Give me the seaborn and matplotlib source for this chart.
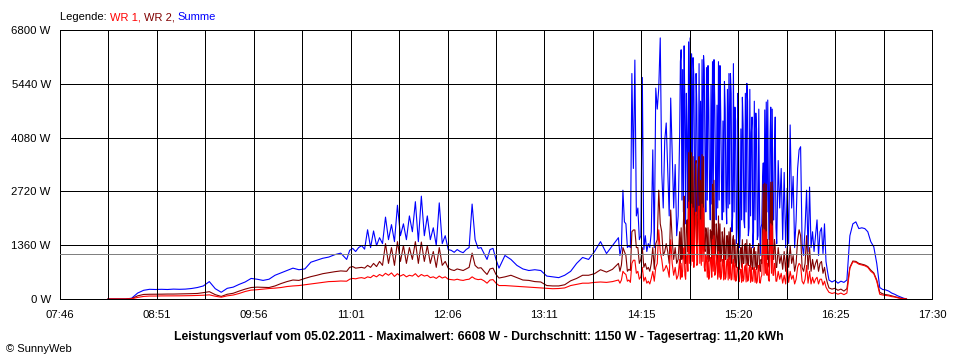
import numpy as np
import pandas as pd
import matplotlib
matplotlib.use("Agg")
import matplotlib.pyplot as plt
import seaborn as sns

# ---------------- data ----------------
# sampling grid of the recorded values (start time, step in minutes, number of samples)
seg_start = ["08:18", "11:00", "12:44", "14:01", "14:41", "15:46", "16:21"]
seg_step = [4, 2, 4, 1, 0.5, 1, 2]
seg_count = [41, 51, 20, 40, 130, 35, 27]

summe = [
    # 08:18 - 10:58
    0, 0, 0, 0, 20, 150, 220, 245, 240, 245,
    240, 250, 245, 250, 265, 290, 330, 440, 260, 170,
    270, 300, 370, 430, 520, 500, 470, 500, 600, 660,
    720, 780, 740, 760, 930, 980, 1030, 1060, 1120, 1160,
    1000,
    # 11:00 - 12:40
    1230, 1280, 1200, 1300, 1350, 1260, 1750, 1300, 1720, 1350,
    1550, 1400, 2070, 1500, 1880, 1450, 2370, 1600, 1900, 1500,
    2100, 1700, 2460, 1450, 2600, 1600, 2100, 1500, 1800, 1350,
    2430, 1400, 1600, 1250, 1230, 1180, 1250, 1200, 1170, 1250,
    1300, 2400, 1500, 1280, 1300, 1150, 1000, 1250, 1280, 1000,
    780,
    # 12:44 - 14:00
    1100, 1000, 850, 760, 720, 740, 720, 580, 560, 540,
    600, 700, 900, 1050, 1000, 1200, 1450, 1150, 1350, 1550,
    # 14:01 - 14:40
    1100, 1300, 2750, 1950, 1900, 1300, 1350, 1300, 5700, 3300,
    6040, 2100, 2300, 1500, 1600, 5600, 1250, 1600, 1200, 1400,
    1300, 1700, 3770, 1300, 5330, 4800, 5330, 6600, 3200, 2300,
    4000, 4450, 3300, 2100, 5080, 3700, 2300, 3400, 1600, 2100,
    # 14:41 - 15:45.5 (half-minute values)
    4150, 6000, 6300, 2500, 5800, 2200, 6400, 4800, 1900, 5200,
    4000, 2300, 6500, 2600, 6600, 2400, 6200, 2500, 6100, 5600,
    3000, 2200, 5700, 4900, 2500, 2100, 5950, 2400, 5000, 2300,
    6050, 2600, 6150, 5800, 3500, 2200, 5850, 2500, 5900, 4800,
    2800, 2000, 5400, 2400, 6000, 2600, 6050, 5000, 3200, 2000,
    4900, 2300, 6000, 2500, 5900, 4700, 3000, 2000, 4500, 2200,
    5500, 4800, 2500, 1900, 5300, 2300, 5700, 2400, 5700, 5200,
    1700, 2100, 5950, 2200, 4850, 4500, 1400, 1800, 5200, 4000,
    1300, 1600, 4300, 2000, 5100, 4400, 2000, 1800, 5200, 2200,
    5450, 5000, 1600, 1800, 5300, 2100, 4200, 4600, 1300, 1700,
    5000, 2000, 4700, 4300, 1500, 1600, 4800, 2200, 1100, 1800,
    1900, 3000, 3440, 1800, 4780, 2000, 4980, 2200, 5030, 2500,
    1500, 4000, 4850, 2200, 4800, 2000, 2000, 3800, 4600, 1800,
    # 15:46 - 16:20
    1400, 3500, 2300, 3300, 1500, 3200, 1300, 2800, 1400, 4400,
    2300, 3100, 1300, 2000, 3300, 3770, 3850, 1400, 1100, 1800,
    2750, 1200, 2830, 1300, 1700, 1200, 1600, 2000, 1100, 1700,
    1800, 1150, 1900, 950, 700,
    # 16:21 - 17:13
    480, 430, 470, 400, 450, 420, 480, 1600, 1900, 1950,
    1780, 1800, 1780, 1700, 1450, 1320, 900, 290, 240, 230,
    200, 150, 120, 80, 50, 20, 0,
]

wr2 = [
    # 08:18 - 10:58
    0, 0, 0, 0, 10, 80, 115, 120, 120, 122,
    125, 125, 128, 130, 135, 140, 160, 185, 110, 65,
    120, 145, 200, 250, 290, 300, 295, 290, 330, 390,
    440, 480, 470, 520, 565, 600, 640, 665, 690, 710,
    700,
    # 11:00 - 12:40
    800, 820, 780, 790, 800, 780, 850, 800, 900, 820,
    950, 850, 1400, 900, 1300, 850, 1450, 950, 1350, 900,
    1300, 1000, 1450, 900, 1440, 950, 1350, 900, 1200, 800,
    1300, 850, 950, 780, 740, 720, 760, 740, 720, 760,
    800, 1160, 850, 780, 790, 700, 620, 760, 780, 620,
    530,
    # 12:44 - 14:00
    560, 600, 540, 480, 470, 440, 430, 340, 330, 330,
    360, 460, 520, 600, 600, 640, 740, 680, 750, 900,
    # 14:01 - 14:40
    700, 860, 1300, 1200, 1100, 700, 750, 720, 1700, 1745,
    1745, 1300, 1300, 900, 1000, 1300, 800, 900, 750, 800,
    700, 900, 1300, 750, 1400, 1500, 2750, 1900, 1700, 1100,
    1200, 1400, 1200, 900, 2250, 1500, 1000, 1300, 900, 1000,
    # 14:41 - 15:45.5 (half-minute values)
    1700, 900, 1800, 1000, 1300, 1900, 2600, 1100, 900, 1800,
    2000, 1200, 3700, 1500, 3750, 1400, 3700, 1600, 3600, 1300,
    2000, 3400, 3500, 1400, 1500, 3300, 3600, 1500, 3000, 1400,
    3650, 1600, 3600, 1300, 1200, 1800, 1700, 1000, 1800, 950,
    1100, 1750, 1700, 1000, 2900, 1300, 3000, 1100, 1200, 1900,
    1600, 900, 2100, 1000, 1900, 950, 1100, 1700, 1500, 900,
    1800, 1000, 1000, 1600, 1600, 900, 1700, 1000, 1800, 950,
    900, 1500, 1600, 900, 1500, 850, 800, 1300, 1400, 800,
    750, 1200, 1300, 800, 1500, 900, 900, 1350, 1400, 850,
    1500, 900, 850, 1300, 1400, 800, 1300, 850, 750, 1250,
    1300, 800, 1200, 750, 800, 1300, 1400, 800, 700, 1000,
    900, 1800, 2900, 1100, 2930, 1200, 2900, 1000, 1500, 900,
    800, 1900, 2950, 1100, 2960, 1000, 1000, 1500, 1300, 800,
    # 15:46 - 16:20
    800, 1300, 900, 1100, 750, 1200, 700, 1300, 800, 1350,
    900, 1100, 700, 900, 1500, 1750, 1600, 800, 700, 900,
    1600, 750, 1300, 700, 1000, 750, 900, 1000, 700, 900,
    950, 650, 800, 550, 400,
    # 16:21 - 17:13
    280, 250, 270, 220, 250, 200, 260, 800, 960, 950,
    900, 880, 860, 820, 730, 660, 480, 170, 130, 110,
    100, 80, 60, 40, 20, 10, 0,
]

wr1 = [
    # 08:18 - 10:58
    0, 0, 0, 0, 5, 40, 65, 75, 75, 78,
    78, 80, 80, 82, 85, 90, 95, 105, 70, 45,
    80, 100, 140, 190, 225, 235, 250, 265, 275, 290,
    315, 330, 340, 360, 380, 400, 420, 440, 445, 455,
    450,
    # 11:00 - 12:40
    500, 520, 510, 530, 540, 520, 560, 540, 600, 560,
    620, 580, 650, 600, 660, 570, 640, 580, 620, 560,
    600, 580, 640, 560, 620, 580, 600, 540, 560, 520,
    580, 530, 560, 500, 490, 480, 500, 480, 470, 490,
    500, 560, 510, 490, 500, 460, 400, 480, 490, 400,
    340,
    # 12:44 - 14:00
    340, 330, 320, 310, 300, 290, 280, 270, 260, 265,
    280, 340, 370, 400, 400, 420, 430, 420, 440, 480,
    # 14:01 - 14:40
    400, 480, 700, 650, 620, 450, 480, 420, 900, 980,
    980, 650, 700, 500, 560, 800, 450, 550, 400, 450,
    380, 520, 700, 450, 800, 900, 1750, 1200, 1000, 700,
    750, 850, 750, 550, 1500, 900, 600, 800, 500, 600,
    # 14:41 - 15:45.5 (half-minute values)
    1000, 500, 900, 550, 700, 1100, 1300, 600, 500, 1000,
    1100, 700, 2450, 900, 2500, 850, 2400, 950, 2300, 800,
    1300, 2100, 2200, 850, 900, 2200, 2350, 900, 2000, 850,
    2400, 950, 2300, 800, 700, 1100, 1000, 550, 1100, 500,
    600, 1050, 1000, 550, 1500, 700, 1600, 600, 650, 1100,
    900, 500, 1200, 550, 1100, 500, 600, 1000, 900, 480,
    1100, 500, 550, 950, 1000, 480, 1050, 520, 1100, 480,
    500, 900, 1000, 480, 900, 450, 480, 800, 800, 430,
    450, 750, 750, 420, 900, 450, 500, 800, 850, 430,
    900, 450, 480, 780, 850, 420, 800, 450, 450, 750,
    800, 420, 750, 400, 450, 750, 850, 420, 400, 550,
    600, 1200, 1750, 600, 1750, 650, 1700, 600, 900, 500,
    450, 1300, 1900, 650, 1850, 600, 600, 900, 800, 450,
    # 15:46 - 16:20
    450, 700, 500, 650, 400, 600, 380, 900, 420, 700,
    500, 600, 380, 500, 800, 900, 850, 450, 380, 500,
    850, 400, 700, 380, 550, 400, 500, 550, 380, 500,
    500, 350, 450, 300, 230,
    # 16:21 - 17:13
    170, 140, 160, 120, 150, 110, 150, 780, 940, 930,
    880, 860, 840, 800, 700, 640, 450, 120, 100, 90,
    80, 60, 50, 30, 15, 5, 0,
]

day_start, day_end = "07:46", "17:30"
x_labels = ["07:46", "08:51", "09:56", "11:01", "12:06",
            "13:11", "14:15", "15:20", "16:25", "17:30"]
y_ticks = [0, 1360, 2720, 4080, 5440, 6800]
average_w = 1150
caption = ("Leistungsverlauf vom 05.02.2011 - Maximalwert: 6608 W - "
           "Durchschnitt: 1150 W - Tagesertrag: 11,20 kWh")
legend_parts = [("Legende: ", "#000000"), ("WR 1, ", "#FF0000"),
                ("WR 2, ", "#800000"), ("Summe", "#0000FF")]

C_SUM, C_WR2, C_WR1 = "#0000FF", "#800000", "#FF0000"

# ---------------- build table ----------------
def to_min(s):
    h, m = s.split(":")
    return int(h) * 60 + int(m)

times = np.concatenate([to_min(s) + st * np.arange(n)
                        for s, st, n in zip(seg_start, seg_step, seg_count)])
assert len(times) == len(summe) == len(wr1) == len(wr2), (len(times), len(summe), len(wr1), len(wr2))
df = pd.DataFrame({"t": times, "Summe": summe, "WR 2": wr2, "WR 1": wr1})

# ---------------- plot ----------------
sns.set_style("white")
plt.rcParams["font.family"] = ["Liberation Sans", "DejaVu Sans"]

PX = 0.72  # one pixel in points at 100 dpi
fig = plt.figure(figsize=(9.6, 3.6), dpi=100)
ax = fig.add_axes([60 / 960, 61 / 360, 872 / 960, 269 / 360])

for col, c in (("Summe", C_SUM), ("WR 2", C_WR2), ("WR 1", C_WR1)):
    sns.lineplot(data=df, x="t", y=col, color=c, linewidth=0.8, ax=ax,
                 estimator=None, antialiased=True)

ax.axhline(average_w, color="#808080", linewidth=PX, zorder=3, antialiased=False)

t0, t1 = to_min(day_start), to_min(day_end)
xt = np.linspace(t0, t1, 2 * (len(x_labels) - 1) + 1)
ax.set_xlim(t0, t1)
ax.set_ylim(y_ticks[0], y_ticks[-1])
ax.set_xticks(xt)
ax.set_xticklabels([x_labels[i // 2] if i % 2 == 0 else "" for i in range(len(xt))])
ax.set_yticks(y_ticks)
ax.set_yticklabels([f"{v} W" for v in y_ticks])
ax.set_xlabel("")
ax.set_ylabel("")

ax.set_axisbelow(False)
ax.grid(True, color="black", linewidth=PX, antialiased=False)
for sp in ax.spines.values():
    sp.set_color("black")
    sp.set_linewidth(PX)
    sp.set_visible(True)
ax.tick_params(axis="both", direction="out", length=3.6, width=PX,
               color="black", labelsize=8.2, labelcolor="black")
ax.tick_params(axis="x", pad=4)
ax.tick_params(axis="y", pad=3)

fig.text(479 / 960, 1 - 337 / 360, caption, ha="center", va="center",
         fontsize=8.8, fontweight="bold", color="black")
fig.text(6 / 960, 1 - 349 / 360, "\u00a9 SunnyWeb", ha="left", va="center",
         fontsize=8, color="black")

# coloured legend line, pieces placed one after another
fig.canvas.draw()
renderer = fig.canvas.get_renderer()
x_px = 60
for txt, col in legend_parts:
    t = fig.text(x_px / 960, 1 - 17 / 360, txt, ha="left", va="center",
                 fontsize=8, color=col)
    bb = t.get_window_extent(renderer=renderer)
    x_px += bb.width

fig.savefig("out.png", dpi=100)
